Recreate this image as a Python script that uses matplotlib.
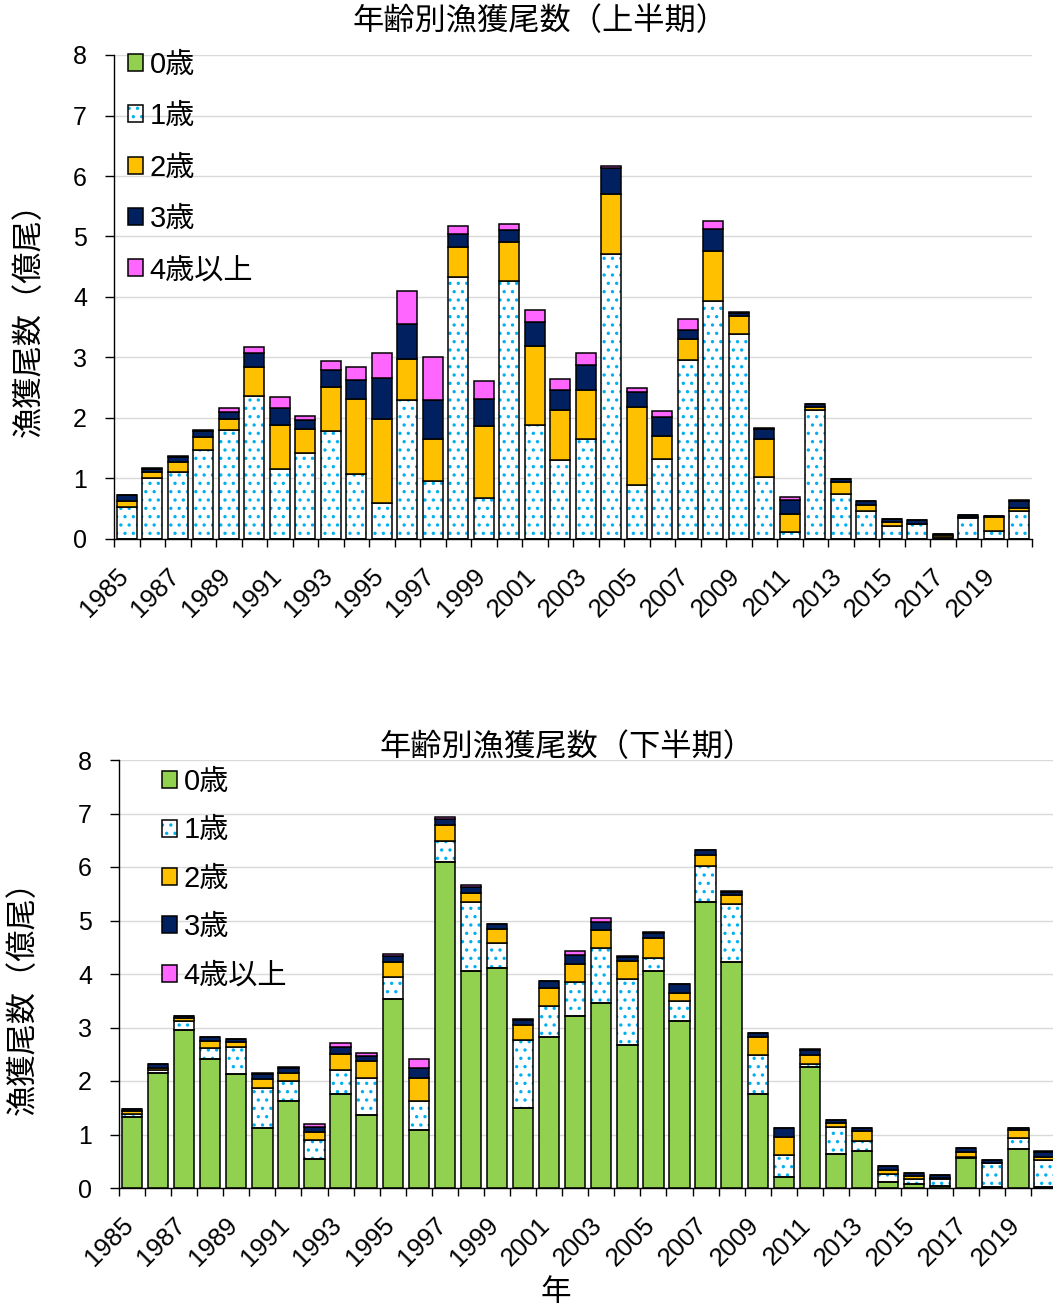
import matplotlib

matplotlib.use("Agg")
import matplotlib.pyplot as plt
import matplotlib.transforms as mtransforms
import numpy as np
from matplotlib.legend_handler import HandlerTuple
from matplotlib.patches import Patch

plt.rcParams["font.family"] = ["Liberation Sans", "Noto Sans CJK JP"]
plt.rcParams["hatch.linewidth"] = 1.2

# -- Data (億尾) ---------------------------------------------------------------

YEARS = list(range(1985, 2021))
AGE_LABELS = ["0歳", "1歳", "2歳", "3歳", "4歳以上"]

# 上半期
H1_AGE0 = [0, 0, 0, 0, 0, 0, 0, 0, 0, 0, 0, 0, 0, 0, 0, 0, 0, 0,
           0, 0, 0, 0, 0, 0, 0, 0, 0, 0, 0, 0, 0, 0, 0, 0, 0, 0]
H1_AGE1 = [0.53, 1.00, 1.11, 1.47, 1.80, 2.36, 1.16, 1.42, 1.78, 1.07, 0.59, 2.29,
           0.96, 4.33, 0.68, 4.26, 1.88, 1.30, 1.66, 4.71, 0.89, 1.32, 2.96, 3.93,
           3.39, 1.02, 0.11, 2.14, 0.75, 0.46, 0.22, 0.24, 0.03, 0.35, 0.14, 0.46]
H1_AGE2 = [0.10, 0.11, 0.16, 0.22, 0.19, 0.49, 0.72, 0.39, 0.74, 1.24, 1.39, 0.69,
           0.70, 0.49, 1.19, 0.65, 1.31, 0.83, 0.81, 0.99, 1.29, 0.38, 0.35, 0.83,
           0.30, 0.63, 0.30, 0.04, 0.20, 0.10, 0.06, 0.01, 0.04, 0.01, 0.22, 0.06]
H1_AGE3 = [0.09, 0.05, 0.09, 0.09, 0.11, 0.22, 0.29, 0.15, 0.28, 0.31, 0.68, 0.57,
           0.64, 0.22, 0.45, 0.20, 0.39, 0.34, 0.40, 0.43, 0.25, 0.32, 0.14, 0.37,
           0.05, 0.17, 0.24, 0.05, 0.04, 0.06, 0.05, 0.06, 0.02, 0.04, 0.02, 0.10]
H1_AGE4 = [0.01, 0.01, 0.01, 0.02, 0.06, 0.11, 0.17, 0.08, 0.14, 0.22, 0.41, 0.55,
           0.70, 0.13, 0.29, 0.09, 0.21, 0.18, 0.21, 0.03, 0.06, 0.10, 0.18, 0.12,
           0.01, 0.01, 0.04, 0.00, 0.00, 0.00, 0.00, 0.00, 0.00, 0.00, 0.00, 0.02]

# 下半期
H2_AGE0 = [1.33, 2.15, 2.95, 2.42, 2.14, 1.12, 1.63, 0.54, 1.75, 1.36, 3.53, 1.08,
           6.10, 4.05, 4.11, 1.50, 2.82, 3.22, 3.45, 2.68, 4.05, 3.12, 5.34, 4.23,
           1.75, 0.21, 2.26, 0.63, 0.69, 0.11, 0.08, 0.03, 0.56, 0.02, 0.73, 0.02]
H2_AGE1 = [0.06, 0.06, 0.17, 0.20, 0.50, 0.75, 0.37, 0.35, 0.46, 0.70, 0.42, 0.54,
           0.39, 1.29, 0.47, 1.27, 0.58, 0.63, 1.04, 1.22, 0.25, 0.38, 0.68, 1.08,
           0.74, 0.40, 0.06, 0.51, 0.19, 0.15, 0.08, 0.13, 0.02, 0.45, 0.21, 0.51]
H2_AGE2 = [0.05, 0.04, 0.05, 0.13, 0.08, 0.17, 0.15, 0.16, 0.30, 0.31, 0.28, 0.44,
           0.29, 0.18, 0.26, 0.27, 0.33, 0.33, 0.34, 0.35, 0.38, 0.15, 0.21, 0.16,
           0.34, 0.35, 0.16, 0.07, 0.19, 0.07, 0.06, 0.03, 0.09, 0.00, 0.15, 0.05]
H2_AGE3 = [0.04, 0.06, 0.05, 0.07, 0.07, 0.10, 0.10, 0.09, 0.13, 0.09, 0.10, 0.19,
           0.12, 0.10, 0.09, 0.10, 0.13, 0.17, 0.15, 0.07, 0.09, 0.16, 0.08, 0.07,
           0.06, 0.16, 0.10, 0.06, 0.06, 0.08, 0.06, 0.06, 0.07, 0.05, 0.04, 0.10]
H2_AGE4 = [0.00, 0.00, 0.00, 0.00, 0.00, 0.01, 0.01, 0.06, 0.07, 0.07, 0.05, 0.16,
           0.04, 0.05, 0.01, 0.01, 0.01, 0.08, 0.06, 0.01, 0.01, 0.01, 0.01, 0.01,
           0.00, 0.01, 0.01, 0.00, 0.00, 0.01, 0.00, 0.00, 0.00, 0.00, 0.00, 0.01]

# -- Styling -------------------------------------------------------------------

W, H = 1053, 1313
COLORS = ["#92D050", None, "#FFC000", "#002060", "#FF66FF"]  # None = dotted
DOT_COLOR = "#00B0F0"
EDGE_LW = 1.1
BAR_W = 0.78


def px_rect(left, top, right, bottom):
    """Axes rectangle from pixel edges (origin top-left)."""
    return [left / W, 1 - bottom / H, (right - left) / W, (bottom - top) / H]


def legend_handles():
    handles = []
    for color in COLORS:
        if color is None:
            dots = Patch(facecolor="white", edgecolor=DOT_COLOR, hatch="..", linewidth=0)
            frame = Patch(fill=False, edgecolor="black", linewidth=EDGE_LW)
            handles.append((dots, frame))
        else:
            handles.append(Patch(facecolor=color, edgecolor="black", linewidth=EDGE_LW))
    return handles


def draw_panel(fig, ax, series, legend_anchor, labelspacing):
    x = np.arange(len(YEARS))
    bottom = np.zeros(len(YEARS))
    for vals, color in zip(series, COLORS):
        vals = np.asarray(vals, dtype=float)
        if color is None:
            ax.bar(x, vals, BAR_W, bottom=bottom, color="white", edgecolor=DOT_COLOR,
                   hatch="..", linewidth=0, zorder=2)
            ax.bar(x, vals, BAR_W, bottom=bottom, fill=False, edgecolor="black",
                   linewidth=EDGE_LW, zorder=3)
        else:
            ax.bar(x, vals, BAR_W, bottom=bottom, color=color, edgecolor="black",
                   linewidth=EDGE_LW, zorder=3)
        bottom += vals

    ax.set_xlim(-0.5, len(YEARS) - 0.5)
    ax.set_ylim(0, 8)
    ax.set_yticks(range(0, 9))
    ax.tick_params(axis="y", labelsize=18, length=6.5, width=1.0, pad=13)
    ax.set_xticks(x[::2])
    ax.set_xticklabels([str(y) for y in YEARS[::2]], rotation=45, ha="right",
                       rotation_mode="anchor", fontsize=18.5)
    ax.tick_params(axis="x", which="major", length=0, pad=18)
    shift = mtransforms.ScaledTranslation(-11 / 100, 0, fig.dpi_scale_trans)
    for lbl in ax.get_xticklabels():
        lbl.set_transform(lbl.get_transform() + shift)
    ax.set_xticks(np.arange(-0.5, len(YEARS), 1), minor=True)
    ax.tick_params(axis="x", which="minor", length=6, width=1.0)

    ax.grid(axis="y", color="#D9D9D9", linewidth=1.0, zorder=0)
    ax.set_axisbelow(True)
    for side in ("top", "right"):
        ax.spines[side].set_visible(False)
    for side in ("left", "bottom"):
        ax.spines[side].set_linewidth(1.0)
        ax.spines[side].set_zorder(4)

    ax.legend(legend_handles(), AGE_LABELS, loc="upper left",
              bbox_to_anchor=legend_anchor, bbox_transform=fig.transFigure,
              frameon=False, fontsize=21, borderpad=0, borderaxespad=0,
              handlelength=0.52, handleheight=0.52, handletextpad=0.22,
              labelspacing=labelspacing,
              handler_map={tuple: HandlerTuple(ndivide=1, pad=0)})


fig = plt.figure(figsize=(W / 100, H / 100), dpi=100)

ax_top = fig.add_axes(px_rect(114, 55, 1032, 539))
draw_panel(fig, ax_top, [H1_AGE0, H1_AGE1, H1_AGE2, H1_AGE3, H1_AGE4],
           (128 / W, 1 - 51 / H), 0.8)

ax_bot = fig.add_axes(px_rect(119, 760, 1057.5, 1188))
draw_panel(fig, ax_bot, [H2_AGE0, H2_AGE1, H2_AGE2, H2_AGE3, H2_AGE4],
           (162 / W, 1 - 768 / H), 0.7)

fig.text(540 / W, 1 - 22 / H, "年齢別漁獲尾数（上半期）", fontsize=22.5,
         ha="center", va="center")
fig.text(567 / W, 1 - 748 / H, "年齢別漁獲尾数（下半期）", fontsize=22.5,
         ha="center", va="center")
fig.text(30 / W, 1 - 312 / H, "漁獲尾数（億尾）", fontsize=22.5, rotation=90,
         ha="center", va="center")
fig.text(24 / W, 1 - 990 / H, "漁獲尾数（億尾）", fontsize=22.5, rotation=90,
         ha="center", va="center")
fig.text(556 / W, 1 - 1293 / H, "年", fontsize=22, ha="center", va="center")

fig.savefig("out.png", dpi=100)
